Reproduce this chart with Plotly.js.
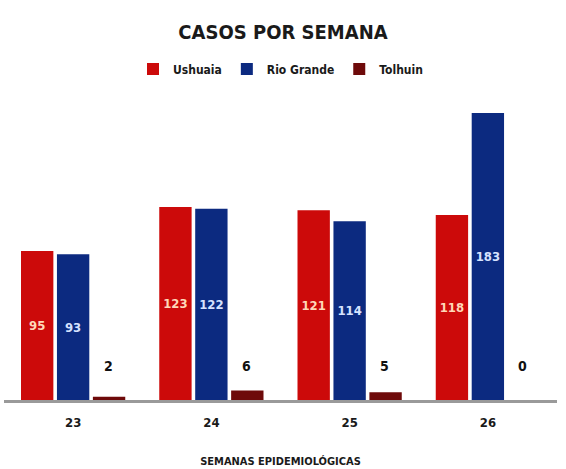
<!DOCTYPE html>
<html><head><meta charset="utf-8">
<script src="https://cdn.plot.ly/plotly-3.0.1.min.js"></script>
<style>html,body{margin:0;padding:0;background:#fff}#c{width:566px;height:469px}</style>
</head><body><div id="c"></div>
<script>
const weeks = ['23','24','25','26'];
const ushuaia = [95,123,121,118];
const rioGrande = [93,122,114,183];
const tolhuin = [2,6,5,0];
const seriesNames = ['Ushuaia','Rio Grande','Tolhuin'];
const colors = ['#cc0a0a','#0c2a80','#6e0a0a'];

const FONT = '"DejaVu Sans Condensed", "Liberation Sans Narrow", "DejaVu Sans", sans-serif';

const mk = (name, y, color, txtColor, showText) => ({
  type:'bar', name, x:weeks, y,
  marker:{color},
  text: showText ? y.map(String) : undefined,
  textposition: showText ? 'inside' : 'none',
  insidetextanchor:'middle',
  textangle:0,
  textfont:{family:FONT, size:13, color:txtColor, weight:700},
  hoverinfo:'none'
});

const data = [
  mk(seriesNames[0], ushuaia, colors[0], '#ffd8b8', true),
  mk(seriesNames[1], rioGrande, colors[1], '#d6e2ff', true),
  mk(seriesNames[2], tolhuin, colors[2], '#000', false)
];

const annotations = weeks.map((w,i)=>({
  x:i, y:0, xref:'x', yref:'y', text:String(tolhuin[i]), showarrow:false,
  xshift:35, yshift:34, font:{family:FONT, size:14, color:'#111', weight:700}
}));

const layout = {
  width:566, height:469,
  margin:{l:4, r:9, t:100, b:69},
  paper_bgcolor:'#fff', plot_bgcolor:'#fff',
  barmode:'group', bargap:0.22, bargroupgap:0.1,
  showlegend:true,
  title:{text:'CASOS POR SEMANA', x:0.5, xanchor:'center', y:0.932, yanchor:'middle',
    font:{family:FONT, size:20, color:'#1a1a1a', weight:700}},
  legend:{orientation:'h', x:0.5, xanchor:'center', y:1.103, yanchor:'middle',
    font:{family:FONT, size:12, color:'#1a1a1a', weight:700}, itemclick:false, traceorder:'normal'},
  xaxis:{type:'category', range:[-0.5,3.5], showline:true, linecolor:'#9a9a9a', linewidth:3, ticks:'',
    ticklabelstandoff:8,
    tickfont:{family:FONT, size:13, color:'#1a1a1a', weight:700},
    title:{text:'SEMANAS EPIDEMIOLÓGICAS', standoff:29, font:{family:FONT, size:11, color:'#1a1a1a', weight:700}},
    showgrid:false, zeroline:false, fixedrange:true, automargin:false},
  yaxis:{range:[0,191.3], visible:false, showgrid:false, zeroline:false, fixedrange:true},
  annotations
};
Plotly.newPlot('c', data, layout, {displayModeBar:false, staticPlot:true});
</script></body></html>
